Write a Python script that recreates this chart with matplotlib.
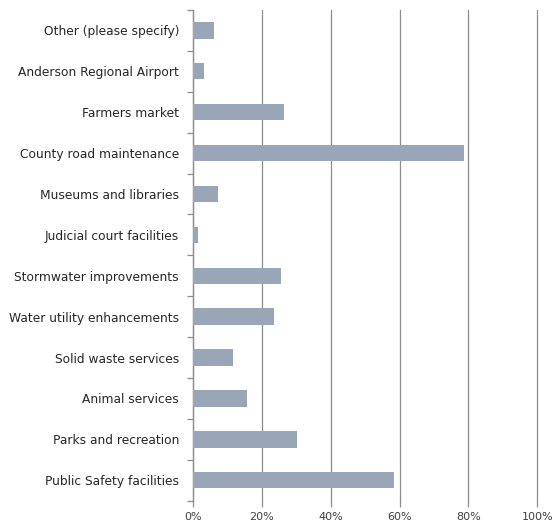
import matplotlib
matplotlib.use("Agg")
import matplotlib.pyplot as plt
from matplotlib.ticker import FixedLocator

categories = [
    "Public Safety facilities",
    "Parks and recreation",
    "Animal services",
    "Solid waste services",
    "Water utility enhancements",
    "Stormwater improvements",
    "Judicial court facilities",
    "Museums and libraries",
    "County road maintenance",
    "Farmers market",
    "Anderson Regional Airport",
    "Other (please specify)",
]
values = [58.4, 30.1, 15.6, 11.6, 23.4, 25.6, 1.5, 7.2, 78.6, 26.4, 3.2, 6.0]
xticks = [0, 20, 40, 60, 80, 100]
xtick_labels = ["0%", "20%", "40%", "60%", "80%", "100%"]

plt.rcParams["font.family"] = ["DejaVu Sans"]

fig = plt.figure(figsize=(5.52, 5.25), dpi=100)
ax = fig.add_axes([0.3496, 0.0463, 0.6238, 0.9347])

pos = list(range(len(categories)))
ax.barh(pos, values, height=0.4, color="#98a6b8", zorder=3)

ax.set_xlim(0, 100)
ax.set_ylim(-0.5, len(categories) - 0.5)
ax.set_xticks(xticks)
ax.set_xticklabels(xtick_labels)
ax.set_yticks(pos)
ax.set_yticklabels(categories)
ax.yaxis.set_minor_locator(FixedLocator([p - 0.5 for p in pos] + [len(pos) - 0.5]))

ax.grid(axis="x", color="#8c8c8c", linewidth=0.9, zorder=0)
for gl in ax.get_xgridlines():
    gl.set_clip_on(False)
for s in ["top", "right", "bottom"]:
    ax.spines[s].set_visible(False)
ax.spines["left"].set_color("#8c8c8c")
ax.spines["left"].set_linewidth(0.9)

ax.tick_params(axis="y", which="major", length=0, pad=10, labelsize=8.8, labelcolor="#262626")
ax.tick_params(axis="y", which="minor", length=4, color="#8c8c8c", width=0.9)
ax.tick_params(axis="x", length=4, color="#8c8c8c", width=0.9, labelsize=8,
               labelcolor="#404040", pad=4)

fig.savefig("out.png", dpi=100)
